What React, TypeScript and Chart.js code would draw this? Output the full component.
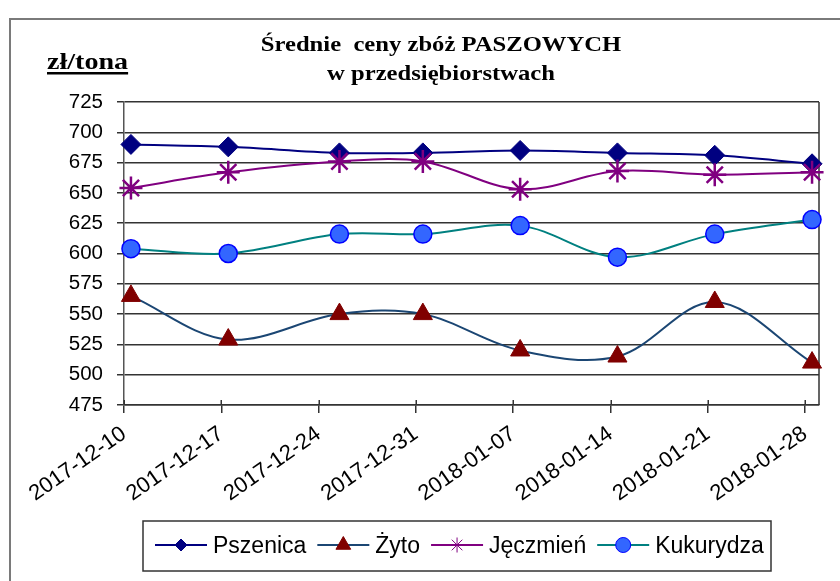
import { useEffect, useRef } from 'react';
import { Chart, registerables } from 'chart.js';
import { drawPoint } from 'chart.js/helpers';

Chart.register(...registerables);

// ---- data ----
const startDate = '2017-12-10';
const pointDates = ['2017-12-10', '2017-12-17', '2017-12-25', '2017-12-31', '2018-01-07', '2018-01-14', '2018-01-21', '2018-01-28'];
const tickLabels = ['2017-12-10', '2017-12-17', '2017-12-24', '2017-12-31', '2018-01-07', '2018-01-14', '2018-01-21', '2018-01-28'];
const yTicks = [475, 500, 525, 550, 575, 600, 625, 650, 675, 700, 725];
const seriesNames = ['Pszenica', 'Żyto', 'Jęczmień', 'Kukurydza'];
const pszenica = [690, 688, 683, 683, 685, 683, 681, 674];
const zyto = [565, 529, 550, 550, 520, 515, 560, 510];
const jeczmien = [654, 667, 676, 676, 653, 668, 665, 667];
const kukurydza = [604, 600, 616, 616, 623, 597, 616, 628];
const titleLines = ['Średnie  ceny zbóż PASZOWYCH', 'w przedsiębiorstwach'];
const yAxisLabel = 'zł/tona';

const DAY = 86400000;
const dayOf = (d: string) => (Date.parse(d) - Date.parse(startDate)) / DAY;
const toPoints = (vals: number[]) => vals.map((v, i) => ({ x: dayOf(pointDates[i]) + 0.5, y: v }));
const xMax = dayOf(tickLabels[tickLabels.length - 1]) + 1;

const SANS = '"Liberation Sans", Arial, sans-serif';
const SERIF = '"Liberation Serif", "Times New Roman", serif';

const styles = [
  { line: '#000080', fill: '#000080', stroke: '#000080', pointStyle: 'rectRot', r: 10, bw: 1, lr: 6, lbw: 1 },
  { line: '#1b4673', fill: '#800000', stroke: '#800000', pointStyle: 'triangle', r: 11, bw: 1, lr: 8.5, lbw: 1 },
  { line: '#800080', fill: '#800080', stroke: '#800080', pointStyle: 'star', r: 11.5, bw: 2.5, lr: 7.5, lbw: 1 },
  { line: '#008080', fill: '#3366ff', stroke: '#0000ff', pointStyle: 'circle', r: 9, bw: 1.5, lr: 7.5, lbw: 1 },
];

function scaledText(ctx: CanvasRenderingContext2D, text: string, x: number, y: number, sx: number) {
  ctx.save();
  ctx.translate(x, y);
  ctx.scale(sx, 1);
  ctx.fillText(text, 0, 0);
  ctx.restore();
}

const decorPlugin = {
  id: 'decor',
  beforeDraw(chart: any) {
    const ctx: CanvasRenderingContext2D = chart.ctx;
    ctx.save();
    ctx.fillStyle = '#ffffff';
    ctx.fillRect(0, 0, chart.width, chart.height);
    // outer frame
    ctx.strokeStyle = '#7a7a7a';
    ctx.lineWidth = 2;
    ctx.strokeRect(10, 19, chart.width + 20, chart.height + 20);
    // title
    ctx.fillStyle = '#000';
    ctx.textAlign = 'center';
    ctx.textBaseline = 'alphabetic';
    ctx.font = `bold 22px ${SERIF}`;
    scaledText(ctx, titleLines[0], 441, 51, 1.12);
    scaledText(ctx, titleLines[1], 441, 80, 1.12);
    // y axis unit label
    ctx.textAlign = 'left';
    ctx.font = `bold 24px ${SERIF}`;
    const sx = 1.17;
    scaledText(ctx, yAxisLabel, 47, 69, sx);
    const w = ctx.measureText(yAxisLabel).width * sx;
    ctx.fillRect(47, 72, w, 2.5);
    ctx.restore();
  },
  beforeDatasetsDraw(chart: any) {
    const ctx: CanvasRenderingContext2D = chart.ctx;
    const a = chart.chartArea;
    const xs = chart.scales.x;
    ctx.save();
    ctx.strokeStyle = '#333';
    ctx.lineWidth = 1.5;
    ctx.beginPath();
    ctx.moveTo(a.right, a.top);
    ctx.lineTo(a.right, a.bottom);
    xs.ticks.forEach((t: any) => {
      const px = Math.round(xs.getPixelForValue(t.value)) + 0.25;
      ctx.moveTo(px, a.bottom - 5);
      ctx.lineTo(px, a.bottom);
    });
    ctx.stroke();
    ctx.restore();
  },
  afterDraw(chart: any) {
    const ctx: CanvasRenderingContext2D = chart.ctx;
    ctx.save();
    // legend box
    const bx = 143, by = 521, bw = 628, bh = 50;
    ctx.strokeStyle = '#333';
    ctx.lineWidth = 1.5;
    ctx.strokeRect(bx, by, bw, bh);
    ctx.font = `23px ${SANS}`;
    ctx.textAlign = 'left';
    ctx.textBaseline = 'alphabetic';
    let x = 155;
    const ly = 545;
    seriesNames.forEach((name, i) => {
      const s = styles[i];
      ctx.strokeStyle = s.line;
      ctx.lineWidth = 2;
      ctx.beginPath();
      ctx.moveTo(x, ly);
      ctx.lineTo(x + 52, ly);
      ctx.stroke();
      ctx.fillStyle = s.fill;
      ctx.strokeStyle = s.stroke;
      ctx.lineWidth = s.lbw;
      drawPoint(ctx, { pointStyle: s.pointStyle as any, radius: s.lr, rotation: 0, borderWidth: s.lbw }, x + 26, ly);
      ctx.fillStyle = '#000';
      ctx.fillText(name, x + 58, 553);
      x += 58 + ctx.measureText(name).width + 11;
    });
    ctx.restore();
  },
};

export default function App() {
  const ref = useRef<HTMLCanvasElement | null>(null);
  useEffect(() => {
    if (!ref.current) return;
    const seriesData = [pszenica, zyto, jeczmien, kukurydza];
    const chart = new Chart(ref.current, {
      type: 'line',
      data: {
        datasets: seriesData.map((vals, i) => ({
          label: seriesNames[i],
          data: toPoints(vals),
          borderColor: styles[i].line,
          backgroundColor: styles[i].fill,
          borderWidth: 2,
          tension: 0.35,
          pointStyle: styles[i].pointStyle as any,
          pointRadius: styles[i].r,
          pointBackgroundColor: styles[i].fill,
          pointBorderColor: styles[i].stroke,
          pointBorderWidth: styles[i].bw,
          fill: false,
          clip: false as any,
          order: 4 - i,
        })),
      },
      options: {
        animation: false,
        responsive: false,
        devicePixelRatio: 1,
        layout: { padding: { left: 0, top: 102, right: 21, bottom: 0 } },
        plugins: {
          legend: { display: false },
          title: { display: false },
          tooltip: { enabled: false },
        },
        scales: {
          x: {
            type: 'linear',
            min: 0,
            max: xMax,
            afterBuildTicks: (scale: any) => {
              scale.ticks = tickLabels.map((l) => ({ value: dayOf(l) }));
            },
            afterFit: (scale: any) => {
              scale.height = 176;
            },
            ticks: {
              autoSkip: false,
              minRotation: 35,
              maxRotation: 35,
              padding: 8,
              color: '#000',
              font: { family: SANS, size: 22 },
              callback: (value: any) => {
                const idx = tickLabels.findIndex((l) => dayOf(l) === value);
                return idx >= 0 ? tickLabels[idx] : '';
              },
            },
            grid: {
              drawOnChartArea: false,
              drawTicks: true,
              tickLength: 8,
              color: '#333',
              lineWidth: 1.5,
            },
            border: { display: true, color: '#333', width: 1.5 },
          },
          y: {
            type: 'linear',
            min: yTicks[0],
            max: yTicks[yTicks.length - 1],
            afterBuildTicks: (scale: any) => {
              scale.ticks = yTicks.map((v) => ({ value: v }));
            },
            afterFit: (scale: any) => {
              scale.width = 124;
            },
            ticks: {
              padding: 14,
              color: '#000',
              font: { family: SANS, size: 20.5 },
              callback: (value: any) => String(value),
            },
            grid: {
              color: '#333',
              lineWidth: 1.5,
              tickLength: 7,
            },
            border: { display: true, color: '#555', width: 1.5 },
          },
        },
      },
      plugins: [decorPlugin],
    });
    return () => chart.destroy();
  }, []);
  return (
    <div style={{ position: 'fixed', left: 0, top: 0, width: 840, height: 581, background: '#fff' }}>
      <canvas ref={ref} width={840} height={581} style={{ display: 'block', width: 840, height: 581 }} />
    </div>
  );
}
